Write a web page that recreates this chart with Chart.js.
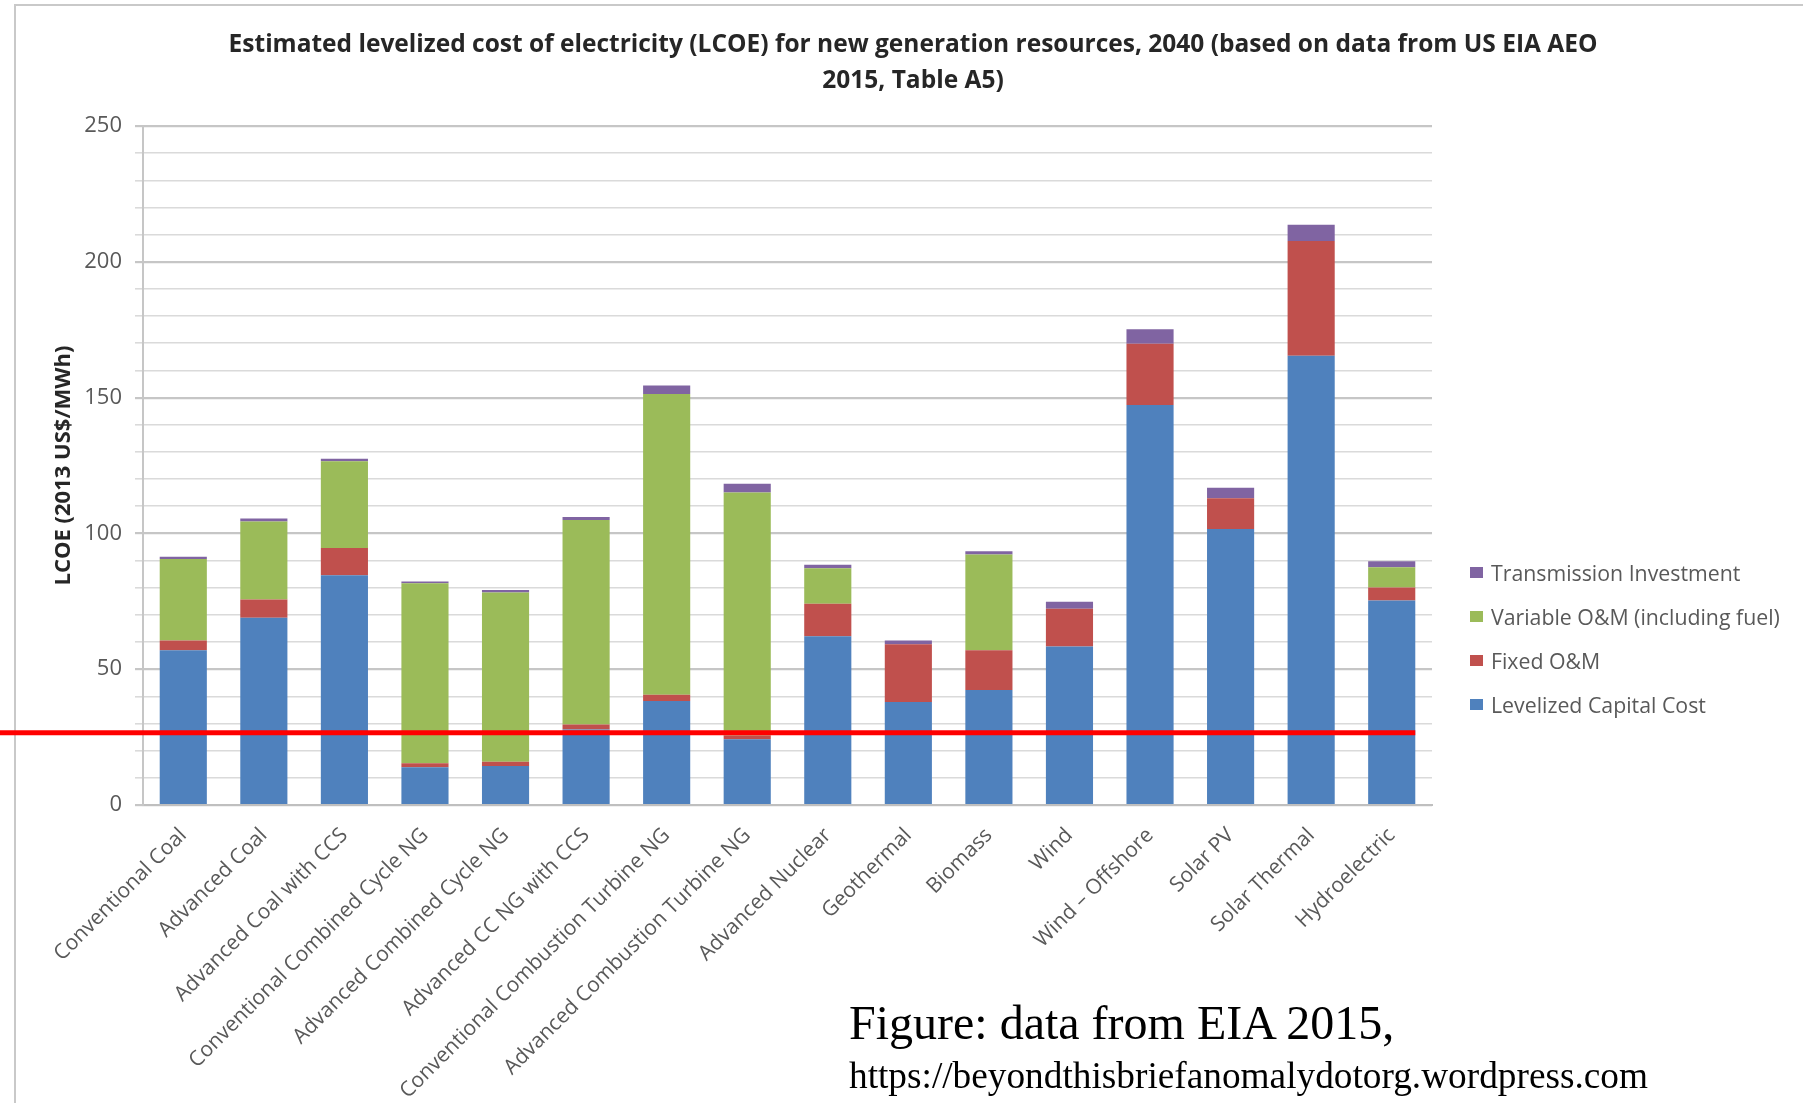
<!DOCTYPE html>
<html>
<head>
<meta charset="utf-8">
<title>LCOE 2040</title>
<script src="https://cdn.jsdelivr.net/npm/chart.js@4.4.1/dist/chart.umd.min.js"></script>
<style>
  html, body { margin: 0; padding: 0; background: #fff; }
  #wrap { position: relative; width: 1803px; height: 1103px; overflow: hidden; background: #fff; }
  #frame { position: absolute; left: 14px; top: 4px; width: 1820px; height: 1120px;
           border-left: 2px solid #c9c9c9; border-top: 2px solid #c9c9c9; box-sizing: border-box; }
  #chart { position: absolute; left: 0; top: 0; }
  #title { position: absolute; left: 113px; width: 1600px; top: 25px; text-align: center;
           font-family: 'Open Sans', sans-serif; font-weight: 700; font-size: 24.5px; line-height: 36px;
           color: #262626; white-space: nowrap; }
  #legend { position: absolute; left: 1470px; top: 550px; font-family: 'Open Sans', sans-serif;
            font-size: 21.3px; color: #595959; }
  #legend .item { height: 44px; display: flex; align-items: center; white-space: nowrap; }
  #legend .box { width: 13px; height: 11px; margin-right: 8px; }
  .note { position: absolute; left: 849px; font-family: 'Liberation Serif', 'Times New Roman', serif;
          color: #000; white-space: nowrap; }
  #note1 { top: 999px; font-size: 48px; line-height: 48px; }
  #note2 { top: 1057px; font-size: 37.3px; line-height: 37px; }
</style>
</head>
<body>
<div id="wrap">
  <div id="frame"></div>
  <canvas id="chart" width="1803" height="1103"></canvas>
  <div id="title">Estimated levelized cost of electricity (LCOE) for new generation resources, 2040 (based on data from US EIA AEO<br>2015, Table A5)</div>
  <div id="legend"></div>
  <div class="note" id="note1">Figure: data from EIA 2015,</div>
  <div class="note" id="note2">https://beyondthisbriefanomalydotorg.wordpress.com</div>
</div>
<script>
// Generation technologies (x axis)
const categories = [
  'Conventional Coal', 'Advanced Coal', 'Advanced Coal with CCS',
  'Conventional Combined Cycle NG', 'Advanced Combined Cycle NG', 'Advanced CC NG with CCS',
  'Conventional Combustion Turbine NG', 'Advanced Combustion Turbine NG', 'Advanced Nuclear',
  'Geothermal', 'Biomass', 'Wind', 'Wind – Offshore', 'Solar PV', 'Solar Thermal', 'Hydroelectric'
];

// LCOE components, 2013 US$/MWh
const capitalCost  = [57.0, 68.9, 84.6, 13.9, 14.4, 27.8, 38.3, 24.2, 62.1, 37.9, 42.3, 58.4, 147.3, 101.6, 165.4, 75.3];
const fixedOM      = [ 3.6,  6.8, 10.0,  1.5,  1.5,  1.8,  2.3,  1.4, 12.0, 21.3, 14.7, 13.9,  22.5,  11.3,  42.3,  4.8];
const variableOM   = [30.0, 28.7, 32.0, 66.2, 62.3, 75.3,110.7, 89.5, 13.1,  0.0, 35.2,  0.0,   0.0,   0.0,   0.0,  7.4];
const transmission = [ 0.8,  1.1,  0.9,  0.7,  1.0,  1.1,  3.2,  3.2,  1.3,  1.4,  1.2,  2.5,   5.4,   3.9,   5.9,  2.2];

// Labelled values on the y axis (gridlines every 10)
const yTickLabels = [0, 50, 100, 150, 200, 250];

// Horizontal reference level drawn across the bars
const markerLevel = 26.6;

const seriesColors = {
  capital: '#4F81BD',
  fixed: '#C0504D',
  variable: '#9BBB59',
  transmission: '#8064A2'
};

const markerLine = {
  id: 'markerLine',
  afterDatasetsDraw(chart) {
    const ctx = chart.ctx;
    const y = chart.scales.y.getPixelForValue(markerLevel);
    const meta = chart.getDatasetMeta(0);
    const last = meta.data[meta.data.length - 1];
    const right = last.x + last.width / 2;
    ctx.save();
    ctx.strokeStyle = '#ff0000';
    ctx.lineWidth = 5;
    ctx.beginPath();
    ctx.moveTo(0, y);
    ctx.lineTo(right, y);
    ctx.stroke();
    ctx.restore();
  }
};

const barShape = { barPercentage: 0.585, categoryPercentage: 1.0, borderWidth: 0 };

const chart = new Chart(document.getElementById('chart'), {
  type: 'bar',
  data: {
    labels: categories,
    datasets: [
      { label: 'Levelized Capital Cost', data: capitalCost, backgroundColor: seriesColors.capital, ...barShape },
      { label: 'Fixed O&M', data: fixedOM, backgroundColor: seriesColors.fixed, ...barShape },
      { label: 'Variable O&M (including fuel)', data: variableOM, backgroundColor: seriesColors.variable, ...barShape },
      { label: 'Transmission Investment', data: transmission, backgroundColor: seriesColors.transmission, ...barShape }
    ]
  },
  options: {
    responsive: false,
    animation: false,
    layout: { padding: { left: 0, right: 371, top: 126, bottom: 0 } },
    plugins: {
      legend: { display: false },
      title: { display: false },
      tooltip: { enabled: false }
    },
    scales: {
      x: {
        stacked: true,
        grid: { display: false, drawTicks: false },
        border: { display: true, color: '#bfbfbf', width: 2 },
        ticks: {
          autoSkip: false,
          minRotation: 45,
          maxRotation: 45,
          padding: 18,
          color: '#595959',
          font: { family: 'Open Sans', size: 21 }
        },
        afterFit(scale) { scale.height = 298; }
      },
      y: {
        stacked: true,
        min: 0,
        max: 250,
        ticks: {
          stepSize: 10,
          maxTicksLimit: 40,
          autoSkip: false,
          padding: 13,
          color: '#595959',
          font: { family: 'Open Sans', size: 22 },
          callback: (v) => yTickLabels.includes(v) ? String(v) : ''
        },
        grid: {
          color: (c) => (c.tick && c.tick.value % 50 === 0) ? '#c6c6c6' : '#dadada',
          lineWidth: (c) => (c.tick && c.tick.value % 50 === 0) ? 2.2 : 1.6,
          tickLength: 8,
          drawTicks: true
        },
        border: { display: true, color: '#c6c6c6', width: 2 },
        title: {
          display: true,
          text: 'LCOE (2013 US$/MWh)',
          color: '#262626',
          font: { family: 'Open Sans', size: 22, weight: 'bold' },
          padding: { top: 51, bottom: 0 }
        },
        afterFit(scale) { scale.width = 143; }
      }
    }
  },
  plugins: [markerLine]
});

// Legend, top to bottom in reverse stacking order
const legendEl = document.getElementById('legend');
chart.data.datasets.slice().reverse().forEach((ds) => {
  const item = document.createElement('div');
  item.className = 'item';
  const box = document.createElement('span');
  box.className = 'box';
  box.style.background = ds.backgroundColor;
  const txt = document.createElement('span');
  txt.textContent = ds.label;
  item.appendChild(box);
  item.appendChild(txt);
  legendEl.appendChild(item);
});
</script>
</body>
</html>
